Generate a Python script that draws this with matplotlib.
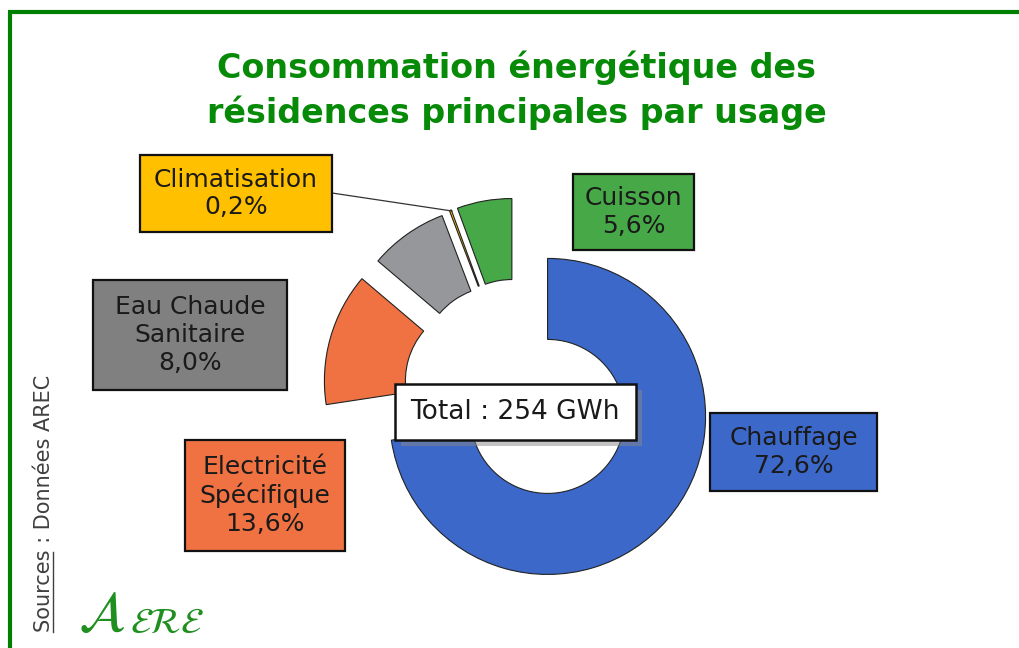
import matplotlib
matplotlib.use("Agg")
import matplotlib.pyplot as plt
from matplotlib.patches import Rectangle
import matplotlib.patheffects as pe

# donnees
usages = ["Chauffage", "Electricité\nSpécifique", "Eau Chaude\nSanitaire", "Climatisation", "Cuisson"]
parts = [72.6, 13.6, 8.0, 0.2, 5.6]
couleurs = ["#3b68c9", "#f07242", "#96979b", "#ffc000", "#47a847"]
couleurs_boite = ["#3b68c9", "#f07242", "#808080", "#ffc000", "#47a847"]
total_gwh = 254

W, H = 1020, 648
fig = plt.figure(figsize=(W / 100, H / 100), dpi=100)
ax = fig.add_axes([0, 0, 1, 1])

def yy(y):
    # coordonnee image -> coordonnee axe
    return H - y

plt.rcParams["mathtext.fontset"] = "stix"
police = "DejaVu Sans"

# anneau eclate
rayon = 158
ecart = [39, 37, 34, 35, 35]
wedges, _ = ax.pie(parts, colors=couleurs, startangle=90, counterclock=False,
                   radius=rayon, center=(518, yy(391)), explode=ecart, frame=True,
                   wedgeprops=dict(width=81, edgecolor="#222222", linewidth=0.8))
ax.set_xlim(0, W)
ax.set_ylim(0, H)
ax.set_aspect("equal")
ax.axis("off")

# cadre vert
ax.plot([8, W], [yy(12), yy(12)], color="#008000", lw=3, solid_capstyle="butt", clip_on=False)
ax.plot([10, 10], [yy(12), 0], color="#008000", lw=3, solid_capstyle="butt", clip_on=False)

# titre
ax.text(517, yy(68), "Consommation énergétique des", ha="center", va="center",
        fontsize=24, fontweight="bold", color="#078a07", family=police)
ax.text(517, yy(113), "résidences principales par usage", ha="center", va="center",
        fontsize=24, fontweight="bold", color="#078a07", family=police)

# etiquettes (boites)
boites = [(710, 413, 167, 78), (185, 440, 160, 111), (93, 280, 194, 110),
          (140, 155, 192, 77), (573, 174, 121, 76)]
for nom, val, c, (bx, by, bw, bh) in zip(usages, parts, couleurs_boite, boites):
    ax.add_patch(Rectangle((bx, yy(by + bh)), bw, bh, facecolor=c,
                           edgecolor="#111111", lw=1.6, zorder=4))
    txt = nom + "\n" + ("%.1f%%" % val).replace(".", ",")
    ax.text(bx + bw / 2, yy(by + bh / 2), txt, ha="center", va="center",
            fontsize=18, color="#1a1a1a", family=police, linespacing=1.2, zorder=5)

# trait vers climatisation
ax.plot([332, 452], [yy(193), yy(211)], color="#333333", lw=0.9, zorder=3)

# total
r = Rectangle((395, yy(440)), 241, 56, facecolor="white", edgecolor="#111111",
              lw=1.8, zorder=6)
r.set_path_effects([pe.SimplePatchShadow(offset=(4, -4), shadow_rgbFace="#888888", alpha=0.5),
                    pe.Normal()])
ax.add_patch(r)
ax.text(515, yy(412), "Total : %d GWh" % total_gwh, ha="center", va="center",
        fontsize=19, color="#1a1a1a", family=police, zorder=7)

# sources
ax.text(44, yy(632), "Sources : Données AREC", rotation=90, ha="center", va="bottom",
        fontsize=15, color="#404040", family=police)
ax.plot([53, 53], [yy(632), yy(552)], color="#404040", lw=1)

# logo
ax.text(78, yy(642), r"$\mathcal{A}$", fontsize=40, color="#1f8f1f", ha="left", va="bottom")
ax.text(130, yy(640), r"$\mathcal{ERE}$", fontsize=26, color="#1f8f1f", ha="left", va="bottom")

fig.savefig("out.png", dpi=100)
